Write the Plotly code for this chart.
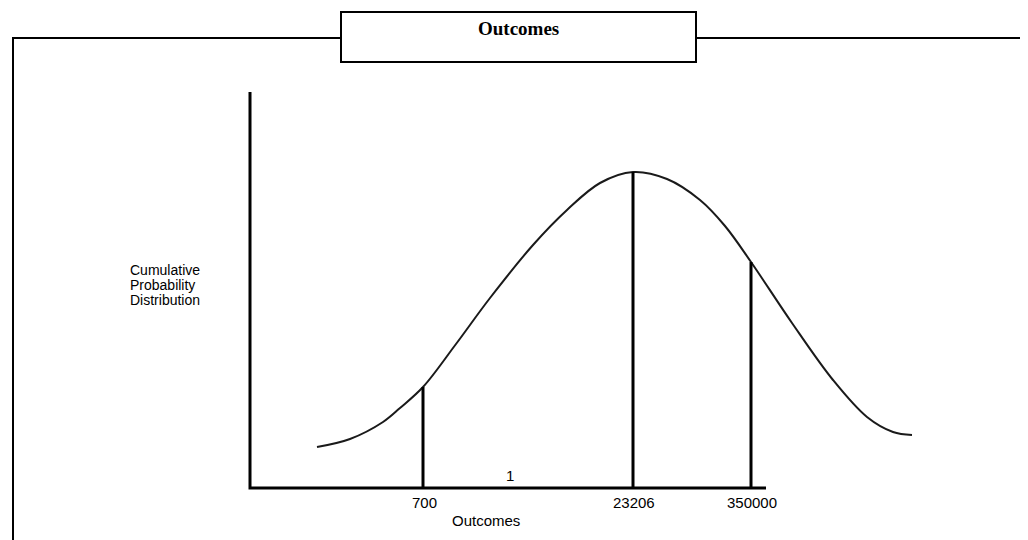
import numpy as np
import plotly.graph_objects as go

# ---- data (schematic units: x measured from the y-axis, y above the x-axis) ----
curve_x = [67, 100, 133, 150, 173, 206, 240, 283, 317, 350, 383,
           417, 450, 475, 501, 542, 583, 617, 643, 662]
curve_y = [41, 49, 66, 80, 101, 144, 190, 243, 278, 305, 316,
           309, 288, 262, 226, 165, 108, 71, 56, 53]
outcome_labels = ["700", "23206", "350000"]
outcome_pos = [173, 383, 501]
axis_len_x = 516
axis_len_y = 396
mid_label = "1"
mid_label_pos = 260
x_title = "Outcomes"
y_title_lines = ["Cumulative", "Probability", "Distribution"]
chart_title = "<b>Outcomes</b>"

# screen-pixel helpers (page body has an 8px margin; data origin at screen (250, 488))
OX, OY, BODY = 250, 488, 8
def px(x):
    return x - OX
def py(y):
    return OY - y

fig = go.Figure()

# bell curve
fig.add_trace(go.Scatter(x=curve_x, y=curve_y, mode="lines",
                         line=dict(color="#1a1a1a", width=2, shape="spline", smoothing=1.0),
                         hoverinfo="skip", showlegend=False))

# vertical lines at outcomes, up to the curve
heights = np.interp(outcome_pos, curve_x, curve_y)
for xp, h in zip(outcome_pos, heights):
    fig.add_trace(go.Scatter(x=[xp, xp], y=[0, h], mode="lines",
                             line=dict(color="black", width=3),
                             hoverinfo="skip", showlegend=False))

# axes lines
fig.add_trace(go.Scatter(x=[0, 0, axis_len_x], y=[axis_len_y, 0, 0], mode="lines",
                         line=dict(color="black", width=3),
                         hoverinfo="skip", showlegend=False))

shapes = []
# outer frame
shapes.append(dict(type="path", xref="x", yref="y",
                   path=f"M {px(13)} {py(560)} L {px(13)} {py(38)} L {px(1026)} {py(38)} L {px(1026)} {py(560)}",
                   line=dict(color="black", width=2)))
# title box
shapes.append(dict(type="rect", xref="x", yref="y",
                   x0=px(341), x1=px(696), y0=py(62), y1=py(12),
                   line=dict(color="black", width=2), fillcolor="white"))
fig.update_layout(shapes=shapes)

ann = []
ann.append(dict(x=(px(341) + px(696)) / 2, y=py(28), text=chart_title, showarrow=False,
                font=dict(family="Liberation Serif", size=19, color="black"),
                xanchor="center", yanchor="middle"))
for lab, xp in zip(outcome_labels, outcome_pos):
    ann.append(dict(x=xp + 1, y=py(502), text=lab, showarrow=False,
                    font=dict(family="Liberation Sans", size=15, color="black"),
                    xanchor="center", yanchor="middle"))
ann.append(dict(x=mid_label_pos, y=py(475), text=mid_label, showarrow=False,
                font=dict(family="Liberation Sans", size=15, color="black"),
                xanchor="center", yanchor="middle"))
ann.append(dict(x=px(486), y=py(520), text=x_title, showarrow=False,
                font=dict(family="Liberation Sans", size=15, color="black"),
                xanchor="center", yanchor="middle"))
for i, line_txt in enumerate(y_title_lines):
    ann.append(dict(x=px(128), y=py(270 + 15 * i), text=line_txt, showarrow=False,
                    font=dict(family="Liberation Sans", size=14, color="black"),
                    xanchor="left", yanchor="middle"))
fig.update_layout(annotations=ann)

fig.update_layout(
    width=1028, height=540, autosize=False,
    margin=dict(l=0, r=0, t=0, b=0, pad=0),
    paper_bgcolor="white", plot_bgcolor="white",
    # figure pixel f sits at screen pixel f + BODY
    xaxis=dict(range=[px(BODY), px(1028 + BODY)], visible=False, fixedrange=True),
    yaxis=dict(range=[py(540 + BODY), py(BODY)], visible=False, fixedrange=True),
    showlegend=False,
)

fig.write_html("out.html")
